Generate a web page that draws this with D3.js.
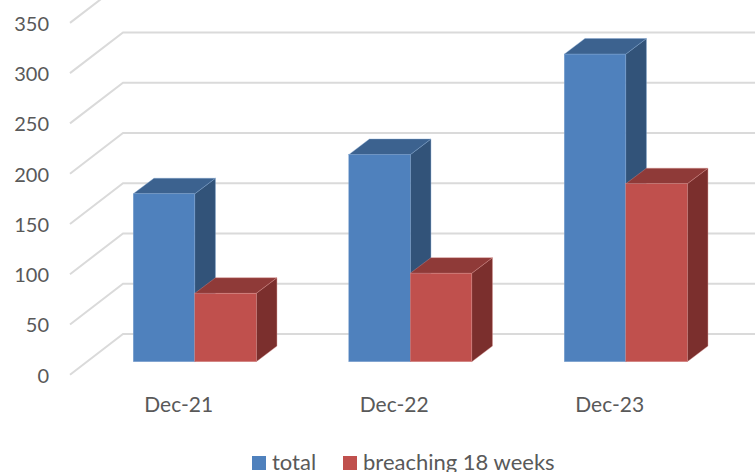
<!DOCTYPE html>
<html>
<head>
<meta charset="utf-8">
<script src="https://cdn.jsdelivr.net/npm/d3@7"></script>
<style>
  html, body { margin: 0; padding: 0; background: #fff; overflow: hidden; }
  svg { display: block; }
  text { font-family: Lato, sans-serif; fill: #595959; }
</style>
</head>
<body>
<div id="chart"></div>
<script>
// --- Data ---
const categories = ["Dec-21", "Dec-22", "Dec-23"];
const seriesNames = ["total", "breaching 18 weeks"];
const totalValues = [167, 206, 306];
const breachingValues = [68, 88, 177];
const yTicks = [0, 50, 100, 150, 200, 250, 300, 350];

// --- SVG Setup ---
const width = 755;
const height = 472;

const svg = d3.select("#chart")
  .append("svg")
  .attr("width", width)
  .attr("height", height);

// --- Scales ---
// y is measured on the front edge of the floor, the back wall sits up and to the right of it
const y = d3.scaleLinear().domain([0, 350]).range([374.7, 22.9]);
const x = d3.scaleBand().domain(categories).range([87, 733.5]).paddingInner(0).paddingOuter(0);
const series = d3.scaleBand().domain(seriesNames).range([-61.5, 61.5]);
const colors = {
  "total": { front: "#4f81bd", top: "#3c628f", side: "#325379", edge: "#7fa3d0" },
  "breaching 18 weeks": { front: "#c0504d", top: "#8f3a38", side: "#7b2f2d", edge: "#d48a88" }
};

const wallDx = 53, wallDy = -40.7;   // left wall depth
const barDx = 20.7, barDy = -15.6;   // bar depth
const baseDy = -13;                  // bars stand a little back from the front edge

// --- Gridlines ---
const grid = svg.append("g")
  .attr("fill", "none")
  .attr("stroke", "#dadada")
  .attr("stroke-width", 2);

grid.selectAll("path")
  .data(yTicks)
  .enter()
  .append("path")
  .attr("d", d => `M70,${y(d)}L${70 + wallDx},${y(d) + wallDy}L${width},${y(d) + wallDy}`);

// --- Y axis ---
const yAxis = svg.append("g")
  .attr("transform", "translate(49,1)")
  .call(d3.axisLeft(y).tickValues(yTicks).tickSize(0).tickPadding(0));
yAxis.select(".domain").remove();
yAxis.selectAll("text").style("font-size", "20px").attr("font-family", null);

// --- X axis ---
const xAxis = svg.append("g")
  .attr("transform", "translate(-16,387)")
  .call(d3.axisBottom(x).tickSize(0).tickPadding(10));
xAxis.select(".domain").remove();
xAxis.selectAll("text").style("font-size", "21px").attr("font-family", null);

// --- Bars ---
const rows = categories.flatMap((c, i) => [
  { cat: c, name: seriesNames[0], value: totalValues[i] },
  { cat: c, name: seriesNames[1], value: breachingValues[i] }
]);

const bar = svg.selectAll(".bar")
  .data(rows)
  .enter()
  .append("g")
  .attr("class", "bar")
  .each(function(d) {
    const g = d3.select(this);
    const x0 = x(d.cat) + x.bandwidth() / 2 + series(d.name);
    const x1 = x0 + series.bandwidth();
    const y0 = y(0) + baseDy;
    const y1 = y(d.value) + baseDy;
    const c = colors[d.name];

    g.append("path")
      .attr("fill", c.side)
      .attr("stroke", c.edge).attr("stroke-width", 0.4)
      .attr("d", `M${x1},${y1}L${x1 + barDx},${y1 + barDy}L${x1 + barDx},${y0 + barDy}L${x1},${y0}Z`);
    g.append("path")
      .attr("fill", c.top)
      .attr("stroke", c.edge).attr("stroke-width", 0.4)
      .attr("d", `M${x0},${y1}L${x0 + barDx},${y1 + barDy}L${x1 + barDx},${y1 + barDy}L${x1},${y1}Z`);
    g.append("rect")
      .attr("x", x0).attr("y", y1)
      .attr("width", x1 - x0).attr("height", y0 - y1)
      .attr("fill", c.front)
      .attr("stroke", c.edge).attr("stroke-width", 0.4);
  });

// --- Legend ---
const legendX = { "total": 252, "breaching 18 weeks": 343 };
const legend = svg.selectAll(".legend")
  .data(seriesNames)
  .enter()
  .append("g")
  .attr("class", "legend")
  .attr("transform", d => `translate(${legendX[d]},456)`);

legend.append("rect")
  .attr("width", 14)
  .attr("height", 14)
  .attr("fill", d => colors[d].front);

legend.append("text")
  .attr("x", 20)
  .attr("y", 14)
  .style("font-size", "22px")
  .text(d => d);
</script>
</body>
</html>
